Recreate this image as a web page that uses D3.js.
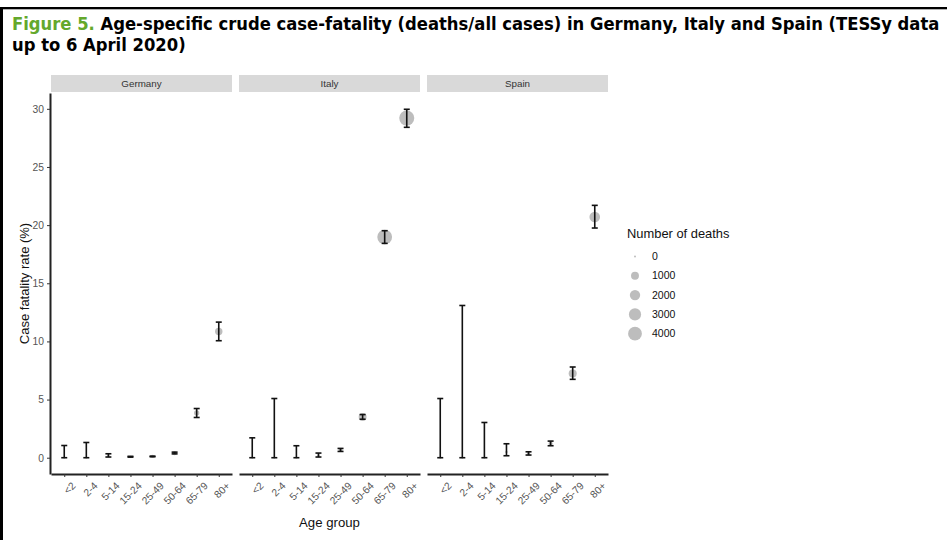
<!DOCTYPE html>
<html>
<head>
<meta charset="utf-8">
<script src="https://cdn.jsdelivr.net/npm/d3@7"></script>
<style>
  html, body { margin: 0; padding: 0; background: #fff; }
  svg { display: block; }
</style>
</head>
<body>
<svg id="chart" width="947" height="540"></svg>
<script>
// ---- Data ----
const ageGroups = ["<2", "2-4", "5-14", "15-24", "25-49", "50-64", "65-79", "80+"];
const countries = ["Germany", "Italy", "Spain"];

const germanyCfr    = [0, 0, 0.17, 0.08, 0.11, 0.40, 3.85, 10.85];
const germanyLow    = [0, 0, 0.06, 0.05, 0.08, 0.33, 3.46, 10.06];
const germanyHigh   = [1.05, 1.31, 0.34, 0.12, 0.14, 0.48, 4.23, 11.66];
const germanyDeaths = [0, 0, 2, 3, 40, 160, 320, 840];

const italyCfr    = [0, 0, 0, 0.2, 0.66, 3.5, 18.97, 29.2];
const italyLow    = [0, 0, 0, 0.06, 0.54, 3.31, 18.43, 28.41];
const italyHigh   = [1.71, 5.09, 1.03, 0.4, 0.8, 3.71, 19.52, 29.96];
const italyDeaths = [0, 0, 0, 8, 110, 1000, 4700, 4900];

const spainCfr    = [0, 0, 0, 0.5, 0.37, 1.23, 7.25, 20.7];
const spainLow    = [0, 0, 0, 0.17, 0.23, 1.03, 6.74, 19.75];
const spainHigh   = [5.09, 13.09, 3.03, 1.2, 0.51, 1.43, 7.8, 21.7];
const spainDeaths = [0, 0, 0, 4, 30, 120, 1040, 2140];

const yTicks = [0, 5, 10, 15, 20, 25, 30];
const legendBreaks = [0, 1000, 2000, 3000, 4000];

const seriesByCountry = {
  Germany: { cfr: germanyCfr, low: germanyLow, high: germanyHigh, deaths: germanyDeaths },
  Italy:   { cfr: italyCfr,   low: italyLow,   high: italyHigh,   deaths: italyDeaths },
  Spain:   { cfr: spainCfr,   low: spainLow,   high: spainHigh,   deaths: spainDeaths }
};

// ---- Layout ----
const svg = d3.select("#chart");
const font = "'Liberation Sans', Arial, sans-serif";
const panelTop = 93, panelBottom = 474, panelW = 181;
const panelX0 = [51, 239, 427];
const stripTop = 75, stripH = 17;

// Frame
svg.append("rect").attr("x", 0).attr("y", 7).attr("width", 947).attr("height", 2.3).attr("fill", "#000");
svg.append("rect").attr("x", 0).attr("y", 7).attr("width", 3).attr("height", 533).attr("fill", "#000");

// Title
const titleG = svg.append("g").attr("transform", "translate(12,0)");
const tg = titleG.append("g");
const t1 = tg.append("text").attr("x", 0).attr("y", 30.5)
  .attr("font-family", "'DejaVu Sans Condensed', 'DejaVu Sans', Verdana, sans-serif")
  .attr("font-weight", "bold").attr("font-size", 18.5).attr("fill", "#000");
t1.append("tspan").attr("fill", "#64a82c").text("Figure 5. ");
t1.append("tspan").text("Age-specific crude case-fatality (deaths/all cases) in Germany, Italy and Spain (TESSy data");
const t2 = tg.append("text").attr("x", 0).attr("y", 51)
  .attr("font-family", "'DejaVu Sans Condensed', 'DejaVu Sans', Verdana, sans-serif")
  .attr("font-weight", "bold").attr("font-size", 18.5).attr("fill", "#000")
  .text("up to 6 April 2020)");
const w1 = t1.node().getComputedTextLength();
tg.attr("transform", `scale(${928 / w1},1)`);

// Scales
const y = d3.scaleLinear().domain([-1.4, 31.36]).range([panelBottom, panelTop]);
const r = d3.scaleSqrt().domain([0, 4000]).range([1, 6.9]);

countries.forEach((country, ci) => {
  const x0 = panelX0[ci];
  const x = d3.scalePoint().domain(ageGroups).range([x0, x0 + panelW]).padding(0.6);
  const s = seriesByCountry[country];
  const rows = ageGroups.map((g, i) => ({ g, cfr: s.cfr[i], low: s.low[i], high: s.high[i], deaths: s.deaths[i] }));

  // strip
  svg.append("rect").attr("x", x0).attr("y", stripTop).attr("width", panelW).attr("height", stripH)
    .attr("fill", "#d9d9d9");
  svg.append("text").attr("x", x0 + panelW / 2).attr("y", stripTop + stripH / 2).attr("dy", "0.35em")
    .attr("text-anchor", "middle").attr("font-family", font).attr("font-size", 9.8).attr("fill", "#333")
    .text(country);

  // x axis
  const xAxis = svg.append("g").attr("transform", `translate(0,${panelBottom})`)
    .call(d3.axisBottom(x).tickSize(3).tickSizeOuter(0));
  xAxis.select(".domain").attr("stroke", "#222").attr("stroke-width", 2);
  xAxis.selectAll(".tick line").attr("stroke", "#333").attr("stroke-width", 1);
  xAxis.selectAll(".tick text")
    .attr("font-family", font).attr("font-size", 10.3).attr("fill", "#555")
    .attr("text-anchor", "end")
    .attr("transform", "translate(6,7) rotate(-45)")
    .attr("x", 0).attr("y", 0).attr("dy", "0.75em");

  // y axis only on first panel
  if (ci === 0) {
    const yAxis = svg.append("g").attr("transform", `translate(${x0 - 1},0)`)
      .call(d3.axisLeft(y).tickValues(yTicks).tickSize(3).tickSizeOuter(0));
    yAxis.select(".domain").attr("stroke", "#222").attr("stroke-width", 2);
    yAxis.selectAll(".tick line").attr("stroke", "#333");
    yAxis.selectAll(".tick text").attr("font-family", font).attr("font-size", 10.3).attr("fill", "#555");
  }

  // points (size = number of deaths)
  svg.append("g").selectAll("circle").data(rows).join("circle")
    .attr("cx", d => x(d.g)).attr("cy", d => y(d.cfr)).attr("r", d => r(d.deaths))
    .attr("fill", "#bdbdbd");

  // error bars
  const eb = svg.append("g").attr("stroke", "#111").attr("stroke-width", 1.6).attr("fill", "none");
  rows.forEach(d => {
    const cx = x(d.g);
    eb.append("line").attr("x1", cx).attr("x2", cx).attr("y1", y(d.low)).attr("y2", y(d.high));
    eb.append("line").attr("x1", cx - 3).attr("x2", cx + 3).attr("y1", y(d.low)).attr("y2", y(d.low));
    eb.append("line").attr("x1", cx - 3).attr("x2", cx + 3).attr("y1", y(d.high)).attr("y2", y(d.high));
  });
});

// axis titles
svg.append("text").attr("transform", `translate(24,${(panelTop + panelBottom) / 2}) rotate(-90)`)
  .attr("text-anchor", "middle").attr("dy", "0.35em")
  .attr("font-family", font).attr("font-size", 13).attr("fill", "#111")
  .text("Case fatality rate (%)");
svg.append("text").attr("x", (panelX0[0] + panelX0[2] + panelW) / 2).attr("y", 527)
  .attr("text-anchor", "middle")
  .attr("font-family", font).attr("font-size", 13.2).attr("fill", "#111")
  .text("Age group");

// legend
const lg = svg.append("g");
lg.append("text").attr("x", 627).attr("y", 238)
  .attr("font-family", font).attr("font-size", 12.9).attr("fill", "#111")
  .text("Number of deaths");
legendBreaks.forEach((b, i) => {
  const cy = 256.5 + i * 19.3;
  lg.append("circle").attr("cx", 635).attr("cy", cy).attr("r", r(b)).attr("fill", "#bdbdbd");
  lg.append("text").attr("x", 652).attr("y", cy).attr("dy", "0.35em")
    .attr("font-family", font).attr("font-size", 10.5).attr("fill", "#111").text(b);
});
</script>
</body>
</html>
